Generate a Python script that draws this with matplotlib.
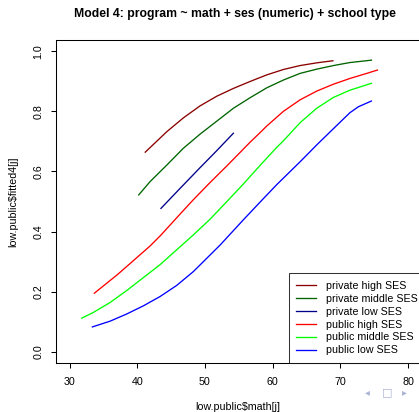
import matplotlib
matplotlib.use("Agg")
import matplotlib.pyplot as plt

plt.rcParams['font.family'] = ['Liberation Sans', 'DejaVu Sans']

title = "Model 4: program ~ math + ses (numeric) + school type"
xlabel = "low.public$math[j]"
ylabel = "low.public$fitted4[j]"

series_names = ["private high SES", "private middle SES", "private low SES",
                "public high SES", "public middle SES", "public low SES"]
series_colors = ["#8B0000", "#006400", "#00008B", "#FF0000", "#00FF00", "#0000FF"]

private_high_x = [41.18, 44.36, 46.81, 49.28, 51.74, 54.2, 56.66, 59.13, 61.6, 64.05, 66.5, 68.9]
private_high_y = [0.664, 0.732, 0.778, 0.818, 0.850, 0.876, 0.899, 0.921, 0.939, 0.952, 0.961, 0.968]

private_mid_x = [40.22, 41.89, 44.36, 46.81, 49.28, 51.74, 54.2, 56.66, 59.13, 61.6, 64.05, 66.5, 68.97, 71.4, 74.6]
private_mid_y = [0.522, 0.566, 0.621, 0.677, 0.724, 0.767, 0.810, 0.845, 0.878, 0.904, 0.926, 0.940, 0.952, 0.962, 0.970]

private_low_x = [43.5, 46.3, 49.3, 51.7, 54.2]
private_low_y = [0.477, 0.543, 0.613, 0.668, 0.727]

public_high_x = [33.66, 36.97, 38.45, 41.89, 43.4, 46.81, 48.29, 50.75, 53.22, 55.4,
                 56.66, 58.14, 59.13, 61.6, 64.05, 66.5, 68.97, 71.4, 73.9, 75.47]
public_high_y = [0.195, 0.255, 0.284, 0.352, 0.386, 0.470, 0.506, 0.563, 0.618, 0.668,
                 0.697, 0.729, 0.751, 0.800, 0.838, 0.867, 0.890, 0.909, 0.926, 0.937]

public_mid_x = [31.8, 33.5, 35.98, 38.45, 43.37, 48.29, 50.75, 52.23, 53.37, 55.67,
                58.14, 60.6, 61.6, 64.05, 66.5, 68.97, 71.4, 74.58]
public_mid_y = [0.112, 0.131, 0.164, 0.204, 0.290, 0.389, 0.441, 0.476, 0.503, 0.558,
                0.620, 0.680, 0.702, 0.762, 0.810, 0.846, 0.870, 0.893]

public_low_x = [33.37, 35.98, 38.45, 40.9, 43.37, 45.83, 48.29, 50.75, 52.23, 55.67,
                58.48, 60.6, 61.6, 64.05, 65.5, 66.5, 68.97, 71.4, 72.66, 74.58]
public_low_y = [0.083, 0.102, 0.126, 0.153, 0.184, 0.221, 0.267, 0.322, 0.355, 0.439,
                0.506, 0.556, 0.578, 0.632, 0.665, 0.688, 0.742, 0.795, 0.815, 0.834]

xticks = [30, 40, 50, 60, 70, 80]
yticks = [0.0, 0.2, 0.4, 0.6, 0.8, 1.0]
ytick_labels = ["0.0", "0.2", "0.4", "0.6", "0.8", "1.0"]

xs = [private_high_x, private_mid_x, private_low_x, public_high_x, public_mid_x, public_low_x]
ys = [private_high_y, private_mid_y, private_low_y, public_high_y, public_mid_y, public_low_y]

W, H = 419, 412
fig = plt.figure(figsize=(W / 100, H / 100), dpi=100)
ax_left, ax_right, ax_top, ax_bottom = 56, 421.6, 40, 363
ax = fig.add_axes([ax_left / W, (H - ax_bottom) / H, (ax_right - ax_left) / W, (ax_bottom - ax_top) / H])

for x, y, c, n in zip(xs, ys, series_colors, series_names):
    ax.plot(x, y, color=c, lw=0.95, label=n)

FS = 7.7
ax.set_xlim(28, 82)
ax.set_ylim(-0.037, 1.037)
ax.set_xticks(xticks)
ax.set_xticklabels([str(t) for t in xticks])
ax.set_yticks(yticks)
ax.set_yticklabels(ytick_labels, rotation=90, va='center')
ax.tick_params(axis='both', direction='out', length=3.6, width=0.75, labelsize=FS, colors='black')
ax.tick_params(axis='x', pad=6.5)
ax.tick_params(axis='y', pad=5.5)
for s in ax.spines.values():
    s.set_linewidth(0.75)
    s.set_color('black')

ax.set_xlabel(xlabel, fontsize=FS)
ax.xaxis.set_label_coords(0.498, -0.12)
ax.set_ylabel(ylabel, fontsize=FS)
ax.yaxis.set_label_coords(-0.102, 0.5)

fig.text(235 / W, 1 - 14 / H, title, ha='center', va='center', fontsize=8.85, fontweight='bold')

leg = ax.legend(loc='lower right', bbox_to_anchor=(1.011, 0.0), fontsize=FS, frameon=True, fancybox=False,
                borderaxespad=0.0, handlelength=1.87, handletextpad=0.93,
                labelspacing=0.27, borderpad=0.72)
leg.get_frame().set_edgecolor('black')
leg.get_frame().set_linewidth(0.75)

nav_color = "#aab4d4"
fig.text(367 / W, 1 - 392 / H, "\u25c2", ha='center', va='center', fontsize=7, color=nav_color, family='DejaVu Sans')
fig.text(387 / W, 1 - 392 / H, "\u25a1", ha='center', va='center', fontsize=8, color=nav_color, family='DejaVu Sans')
fig.text(404 / W, 1 - 392 / H, "\u25b8", ha='center', va='center', fontsize=7, color=nav_color, family='DejaVu Sans')

fig.savefig("out.png", dpi=100)
